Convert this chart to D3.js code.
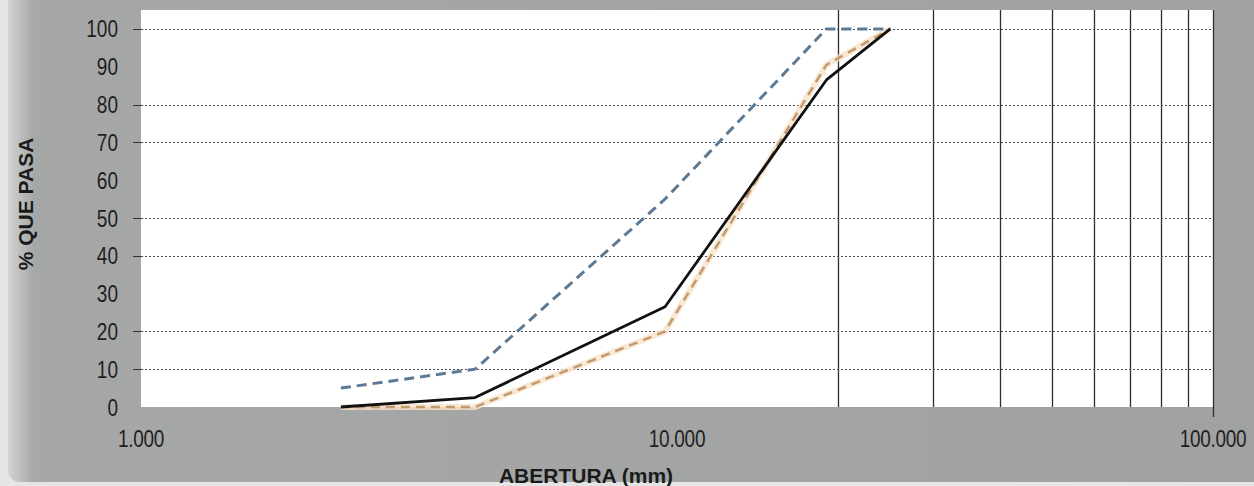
<!DOCTYPE html>
<html>
<head>
<meta charset="utf-8">
<script src="https://cdn.jsdelivr.net/npm/d3@7"></script>
<style>
  html, body { margin: 0; padding: 0; background: #e4e6e6; }
  svg { display: block; }
</style>
</head>
<body>
<div id="chart"></div>
<script>
// sieve openings (mm) and % passing
const aberturas = [2.36, 4.2, 9.5, 19, 25];
const pasaMuestra = [0, 2.5, 26.5, 86.5, 100];   // black solid
const limiteSup = [5, 10, 55, 100, 100];          // blue dashed
const limiteInf = [0, 0, 20, 90.5, 100];          // tan dashed

const xTicks = [1, 10, 100];
const yTicks = [0, 10, 20, 30, 40, 50, 60, 70, 80, 90, 100];
const xGrid = [20, 30, 40, 50, 60, 70, 80, 90, 100];
const yGrid = [10, 20, 40, 50, 70, 80, 100];

const width = 1254;
const height = 486;

const svg = d3.select('#chart').append('svg')
    .attr('width', width)
    .attr('height', height);

// chart area panel, with lighter left edge
const defs = svg.append('defs');
const grad = defs.append('linearGradient')
    .attr('id', 'edge')
    .attr('x1', 0).attr('x2', 1).attr('y1', 0).attr('y2', 0);
grad.append('stop').attr('offset', '0%').attr('stop-color', '#d2d4d4');
grad.append('stop').attr('offset', '2%').attr('stop-color', '#a6a8a7');
grad.append('stop').attr('offset', '100%').attr('stop-color', '#a0a2a1');

svg.append('rect')
    .attr('x', 8).attr('y', -30)
    .attr('width', 1300).attr('height', 512)
    .attr('rx', 12)
    .style('fill', 'url(#edge)');

const x = d3.scaleLog().domain([1, 100]).range([141, 1213]);
const y = d3.scaleLinear().domain([0, 105]).range([407, 10]);

// plot area
svg.append('rect')
    .attr('x', x(1)).attr('y', y(105))
    .attr('width', x(100) - x(1))
    .attr('height', y(0) - y(105))
    .style('fill', '#ffffff');

// vertical grid (only in the 10-100 decade)
svg.append('g').selectAll('line')
    .data(xGrid)
    .enter().append('line')
    .attr('x1', d => Math.round(x(d)) + 0.5)
    .attr('x2', d => Math.round(x(d)) + 0.5)
    .attr('y1', y(105))
    .attr('y2', d => d === 100 ? y(0) + 10 : y(0))
    .style('stroke', '#2e2e2e')
    .style('stroke-width', 1.3);

// horizontal dotted grid
svg.append('g').selectAll('line')
    .data(yGrid)
    .enter().append('line')
    .attr('x1', x(1))
    .attr('x2', x(100))
    .attr('y1', d => Math.round(y(d)) + 0.5)
    .attr('y2', d => Math.round(y(d)) + 0.5)
    .style('stroke', '#4a4a4a')
    .style('stroke-width', 1.2)
    .style('stroke-dasharray', '2,2');

// small tick marks left of the plot
svg.append('g').selectAll('line')
    .data(yGrid)
    .enter().append('line')
    .attr('x1', x(1) - 8)
    .attr('x2', x(1))
    .attr('y1', d => Math.round(y(d)) + 0.5)
    .attr('y2', d => Math.round(y(d)) + 0.5)
    .style('stroke', '#333')
    .style('stroke-width', 1);

// y tick labels (vertically stretched like the original)
svg.append('g').selectAll('text')
    .data(yTicks)
    .enter().append('text')
    .attr('transform', d => `translate(118, ${y(d)}) scale(1, 1.25)`)
    .attr('text-anchor', 'end')
    .attr('dy', '0.36em')
    .style('font-family', 'Liberation Sans, Arial, sans-serif')
    .style('font-size', '19px')
    .style('fill', '#1f1f1f')
    .text(d => d);

// x tick labels
const fmt = d3.format('.3f');
svg.append('g').selectAll('text')
    .data(xTicks)
    .enter().append('text')
    .attr('transform', d => `translate(${x(d)}, 438) scale(1, 1.25)`)
    .attr('text-anchor', 'middle')
    .attr('dy', '0.36em')
    .style('font-family', 'Liberation Sans, Arial, sans-serif')
    .style('font-size', '19px')
    .style('letter-spacing', '-0.3px')
    .style('fill', '#1f1f1f')
    .text(d => fmt(d));

// axis titles
svg.append('text')
    .attr('x', 586).attr('y', 475)
    .attr('text-anchor', 'middle')
    .attr('dy', '0.36em')
    .style('font-family', 'Liberation Sans, Arial, sans-serif')
    .style('font-weight', 'bold')
    .style('font-size', '21px')
    .style('fill', '#1a1a1a')
    .text('ABERTURA (mm)');

svg.append('text')
    .attr('transform', 'translate(25, 204) rotate(-90)')
    .attr('text-anchor', 'middle')
    .attr('dy', '0.36em')
    .style('font-family', 'Liberation Sans, Arial, sans-serif')
    .style('font-weight', 'bold')
    .style('font-size', '21px')
    .style('fill', '#1a1a1a')
    .text('% QUE PASA');

// curves
const line = d3.line()
    .x(d => x(d[0]))
    .y(d => y(d[1]));

const pts = vals => aberturas.map((a, i) => [a, vals[i]]);

const plot = svg.append('g');

// tan band: light halo under dashes
plot.append('path')
    .attr('d', line(pts(limiteInf)))
    .style('fill', 'none')
    .style('stroke', '#f8e2c8')
    .style('stroke-width', 6)
    .style('opacity', 0.8);
plot.append('path')
    .attr('d', line(pts(limiteInf)))
    .style('fill', 'none')
    .style('stroke', '#c29a70')
    .style('stroke-width', 2.5)
    .style('stroke-dasharray', '9,6');

plot.append('path')
    .attr('d', line(pts(limiteSup)))
    .style('fill', 'none')
    .style('stroke', '#5d7a92')
    .style('stroke-width', 3)
    .style('stroke-dasharray', '10,6');

plot.append('path')
    .attr('d', line(pts(pasaMuestra)))
    .style('fill', 'none')
    .style('stroke', '#111111')
    .style('stroke-width', 2.8)
    .style('stroke-linejoin', 'round');
</script>
</body>
</html>
